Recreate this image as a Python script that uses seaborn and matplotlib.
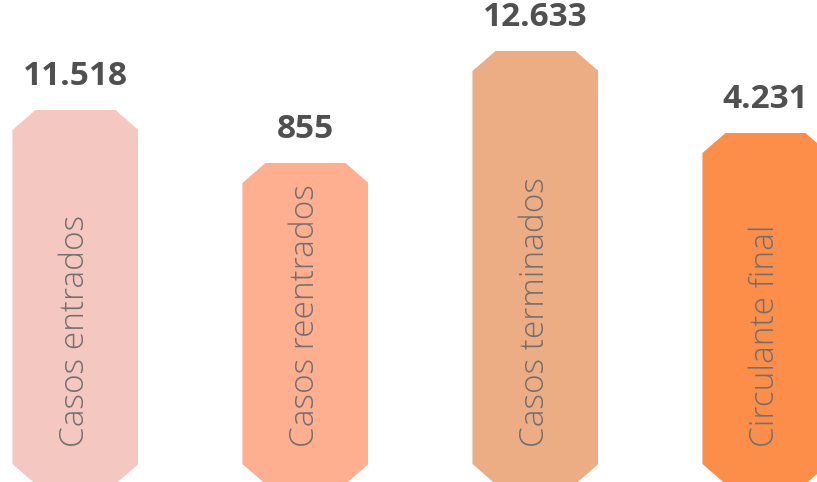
import matplotlib
matplotlib.use("Agg")
import matplotlib.pyplot as plt
from matplotlib.patches import Polygon
import pandas as pd
import seaborn as sns

categories = ["Casos entrados", "Casos reentrados", "Casos terminados", "Circulante final"]
value_labels = ["11.518", "855", "12.633", "4.231"]
# bar heights as drawn in the picture (not proportional to the values)
bar_heights = [374, 321, 433, 351]
bar_colors = ["#F5C7C1", "#FDAF90", "#EDAD84", "#FD8E49"]

df = pd.DataFrame({"categoria": categories, "altura": bar_heights})

sns.set_theme(style="white")
plt.rcParams["font.family"] = ["Open Sans", "DejaVu Sans"]

fig = plt.figure(figsize=(8.17, 4.82), dpi=100)
ax = fig.add_axes([0, 0, 1, 1])
sns.barplot(data=df, x="categoria", y="altura", hue="categoria",
            palette=bar_colors, width=0.548, legend=False, saturation=1, ax=ax)
ax.set_xlim(-0.328, 3.224)
ax.set_ylim(2, 484)
ax.axis("off")

# cut the corners of each bar
cut_x, cut_y = 0.1, 20
bars = sorted(ax.patches, key=lambda p: p.get_x())
for bar, cat, lab in zip(bars, categories, value_labels):
    x0, y0 = bar.get_x(), bar.get_y()
    w, h = bar.get_width(), bar.get_height()
    pts = [(x0, y0 + cut_y), (x0 + cut_x, y0), (x0 + w - cut_x, y0), (x0 + w, y0 + cut_y),
           (x0 + w, y0 + h - cut_y), (x0 + w - cut_x, y0 + h), (x0 + cut_x, y0 + h),
           (x0, y0 + h - cut_y)]
    shape = Polygon(pts, closed=True, transform=ax.transData, facecolor="none", edgecolor="none")
    ax.add_patch(shape)
    bar.set_clip_path(shape)
    bar.set_edgecolor("none")

    cx = x0 + w / 2
    ax.annotate(lab, (cx, y0 + h), xytext=(0, 18), textcoords="offset points",
                ha="center", va="baseline", fontsize=24, fontweight="bold", color="#505050")
    ax.text(cx, 37, cat, rotation=90, ha="center", va="bottom",
            fontsize=24, fontweight="light", color="#707070")

fig.savefig("out.png", dpi=100)
